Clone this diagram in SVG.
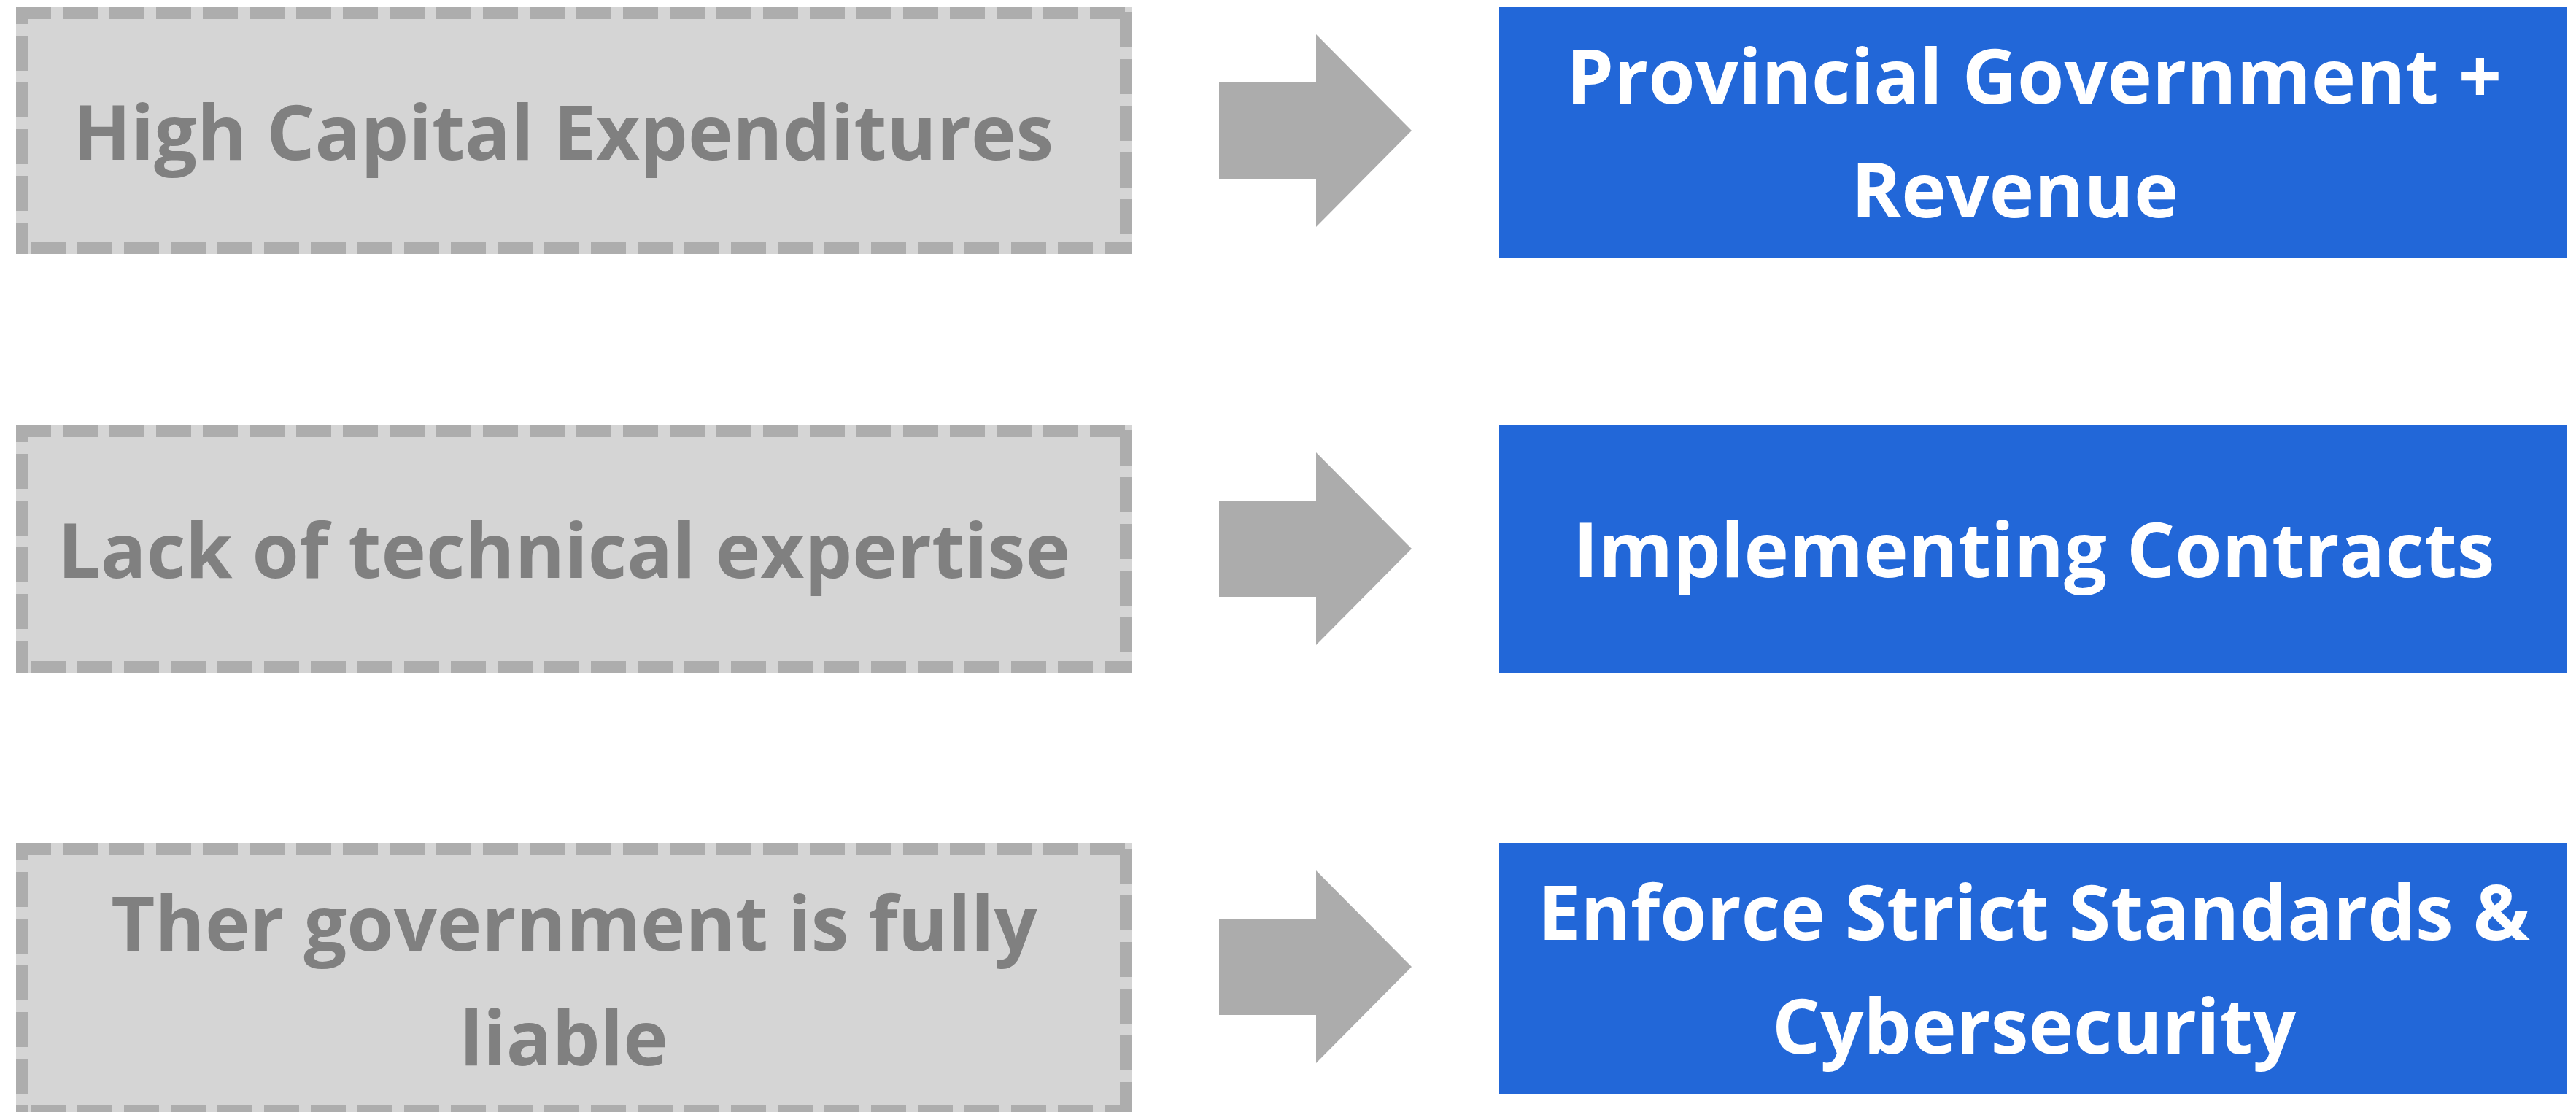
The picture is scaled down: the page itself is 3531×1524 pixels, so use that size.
<svg xmlns="http://www.w3.org/2000/svg" width="3531" height="1524" viewBox="0 0 3531 1524">
<style>
.gfill{fill:#d5d5d5;}
.dash{stroke:#adadad;stroke-width:16;stroke-dasharray:48 16;fill:none;}
.dl{stroke-dashoffset:25;}
.dr{stroke-dashoffset:57;}
.db{stroke-dashoffset:44;}
.blue{fill:#2267d8;}
.arrow{fill:#acacac;}
.gt{font-family:"Open Sans","Liberation Sans",sans-serif;font-weight:700;font-size:104px;fill:#808080;text-anchor:middle;}
.bt{font-family:"Open Sans","Liberation Sans",sans-serif;font-weight:700;font-size:104px;fill:#ffffff;text-anchor:middle;}
</style>
<rect width="3531" height="1524" fill="#ffffff"/>

<g id="left1">
<rect class="gfill" x="22" y="10" width="1529" height="338"/>
<line class="dash" x1="22" y1="18" x2="1551" y2="18"/>
<line class="dash dl" x1="30" y1="10" x2="30" y2="348"/>
<line class="dash dr" x1="1543" y1="10" x2="1543" y2="348"/>
<line class="dash db" x1="22" y1="340" x2="1551" y2="340"/>
<text class="gt" x="772" y="219">High Capital Expenditures</text>
</g>

<g id="left2">
<rect class="gfill" x="22" y="583" width="1529" height="339"/>
<line class="dash" x1="22" y1="591" x2="1551" y2="591"/>
<line class="dash dl" x1="30" y1="583" x2="30" y2="922"/>
<line class="dash dr" x1="1543" y1="583" x2="1543" y2="922"/>
<line class="dash db" x1="22" y1="914" x2="1551" y2="914"/>
<text class="gt" x="773" y="792">Lack of technical expertise</text>
</g>

<g id="left3">
<rect class="gfill" x="22" y="1156" width="1529" height="374"/>
<line class="dash" x1="22" y1="1164" x2="1551" y2="1164"/>
<line class="dash dl" x1="30" y1="1156" x2="30" y2="1530"/>
<line class="dash dr" x1="1543" y1="1156" x2="1543" y2="1530"/>
<line class="dash db" x1="22" y1="1522" x2="1551" y2="1522"/>
<text class="gt" x="787" y="1303">Ther government is fully</text>
<text class="gt" x="773" y="1460">liable</text>
</g>

<g id="connectors">
<polygon class="arrow" points="1671,113 1804,113 1804,47 1935,179 1804,311 1804,245 1671,245"/>
<polygon class="arrow" points="1671,686 1804,686 1804,620 1935,752 1804,884 1804,818 1671,818"/>
<polygon class="arrow" points="1671,1259 1804,1259 1804,1193 1935,1325 1804,1457 1804,1391 1671,1391"/>
</g>

<g id="right1">
<rect class="blue" x="2055" y="10" width="1464" height="343"/>
<text class="bt" x="2788" y="142">Provincial Government +</text>
<text class="bt" x="2762" y="298">Revenue</text>
</g>

<g id="right2">
<rect class="blue" x="2055" y="583" width="1464" height="340"/>
<text class="bt" x="2788" y="791">Implementing Contracts</text>
</g>

<g id="right3">
<rect class="blue" x="2055" y="1156" width="1464" height="343"/>
<text class="bt" x="2788" y="1288">Enforce Strict Standards &amp;</text>
<text class="bt" x="2788" y="1444">Cybersecurity</text>
</g>
</svg>
